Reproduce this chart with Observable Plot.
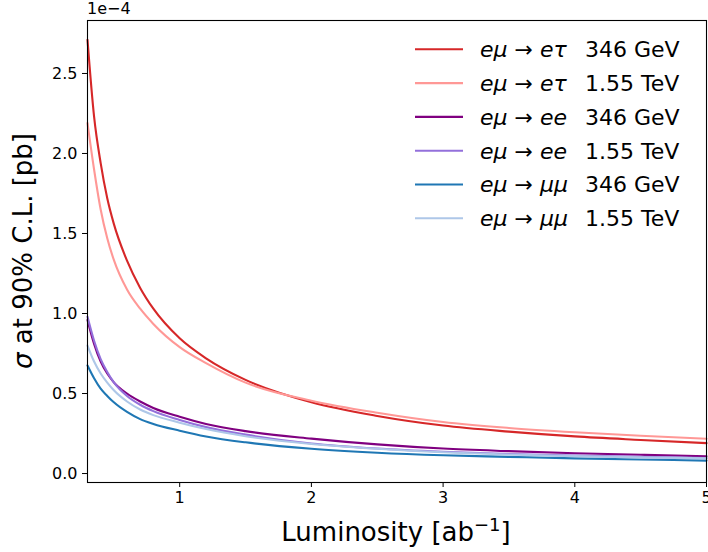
<!DOCTYPE html>
<html><head><meta charset="utf-8">
<script src="https://cdn.jsdelivr.net/npm/d3@7"></script>
<script src="https://cdn.jsdelivr.net/npm/@observablehq/plot@0.6"></script>
<style>body{margin:0;background:#fff}</style>
</head><body><div id="chart"></div>
<script>
// Luminosity sample points [ab^-1]
const lumi = [0.3, 0.35, 0.4, 0.45, 0.5, 0.6, 0.7, 0.8, 1.0, 1.2, 1.5, 2.0, 2.5, 3.0, 3.5, 4.0, 4.5, 5.0];
// sigma at 90% C.L. in units of 1e-4 pb
const etau346  = [2.71, 2.23, 1.94, 1.72, 1.56, 1.33, 1.16, 1.03, 0.845, 0.72, 0.585, 0.445, 0.36, 0.30, 0.262, 0.232, 0.21, 0.19];
const etau155  = [2.19, 1.90, 1.65, 1.47, 1.335, 1.15, 1.03, 0.935, 0.79, 0.69, 0.568, 0.455, 0.38, 0.322, 0.285, 0.258, 0.236, 0.217];
const ee346    = [0.96, 0.81, 0.70, 0.625, 0.57, 0.50, 0.45, 0.41, 0.355, 0.31, 0.265, 0.218, 0.182, 0.156, 0.14, 0.127, 0.117, 0.108];
const ee155    = [0.98, 0.83, 0.715, 0.635, 0.57, 0.485, 0.43, 0.39, 0.335, 0.29, 0.243, 0.188, 0.156, 0.136, 0.122, 0.112, 0.104, 0.097];
const mumu346  = [0.675, 0.595, 0.53, 0.485, 0.445, 0.385, 0.34, 0.31, 0.268, 0.232, 0.195, 0.155, 0.13, 0.114, 0.104, 0.095, 0.088, 0.081];
const mumu155  = [0.80, 0.70, 0.625, 0.568, 0.52, 0.45, 0.40, 0.365, 0.318, 0.278, 0.233, 0.185, 0.155, 0.133, 0.119, 0.109, 0.101, 0.095];

const seriesKeys = ["etau346", "etau155", "ee346", "ee155", "mumu346", "mumu155"];
const seriesValues = [etau346, etau155, ee346, ee155, mumu346, mumu155];
const seriesColors = ["#d62728", "#ff9896", "#800080", "#9370db", "#1f77b4", "#aec7e8"];
const procA = ["eμ", "eμ", "eμ", "eμ", "eμ", "eμ"];
const procB = ["eτ", "eτ", "ee", "ee", "μμ", "μμ"];
const energies = ["346 GeV", "1.55 TeV", "346 GeV", "1.55 TeV", "346 GeV", "1.55 TeV"];

const xTicks = [1, 2, 3, 4, 5];
const yTicks = [0, 0.5, 1.0, 1.5, 2.0, 2.5];
const offsetText = "1e−4";
const xLabel = "Luminosity [ab";
const yLabelSym = "σ";
const yLabelRest = " at 90% C.L. [pb]";

const data = seriesKeys.flatMap((k, si) => lumi.map((L, i) => ({L, v: seriesValues[si][i], key: k})));

const chart = Plot.plot({
  width: 708, height: 552,
  marginLeft: 87, marginRight: 2, marginTop: 20, marginBottom: 70,
  style: {fontFamily: "DejaVu Sans", fontSize: "16px", color: "black", background: "white", overflow: "visible"},
  x: {domain: [0.3, 5], ticks: xTicks, tickSize: 5, tickPadding: 4, label: null, tickFormat: d => String(d)},
  y: {domain: [-0.056, 2.831], ticks: yTicks, tickSize: 5, tickPadding: 5, label: null, tickFormat: d3.format(".1f")},
  color: {domain: seriesKeys, range: seriesColors},
  marks: [
    Plot.line(data, {x: "L", y: "v", z: "key", stroke: "key", strokeWidth: 2.1, curve: "monotone-x"}),
    Plot.frame({stroke: "black", strokeWidth: 1.1})
  ]
});

const svg = d3.select(chart);
const font = "DejaVu Sans";

// offset text
svg.append("text").attr("x", 87).attr("y", 14).attr("text-anchor", "start")
  .attr("font-family", font).attr("font-size", 16).attr("fill", "black").text(offsetText);

// x label
const xl = svg.append("text").attr("x", 396).attr("y", 541).attr("text-anchor", "middle")
  .attr("font-family", font).attr("font-size", 26).attr("fill", "black");
xl.append("tspan").text(xLabel);
xl.append("tspan").attr("font-size", 18).attr("dy", -10).text("−1");
xl.append("tspan").attr("dy", 10).text("]");

// y label
const yl = svg.append("text").attr("transform", "translate(32,251) rotate(-90)").attr("text-anchor", "middle")
  .attr("font-family", font).attr("font-size", 26).attr("fill", "black");
yl.append("tspan").attr("font-style", "italic").text(yLabelSym);
yl.append("tspan").text(yLabelRest);

// legend
seriesKeys.forEach((k, i) => {
  const y = 49.3 + i * 33.8;
  svg.append("line").attr("x1", 415).attr("x2", 463).attr("y1", y).attr("y2", y)
    .attr("stroke", seriesColors[i]).attr("stroke-width", 2.1);
  const t = svg.append("text").attr("x", 480).attr("y", y).attr("dy", "0.36em").attr("text-anchor", "start")
    .attr("font-family", font).attr("font-size", 22).attr("fill", "black");
  t.append("tspan").attr("font-style", "italic").text(procA[i]);
  t.append("tspan").text(" → ");
  t.append("tspan").attr("font-style", "italic").text(procB[i]);
  t.append("tspan").attr("x", 585).text(energies[i]);
});

document.getElementById("chart").appendChild(chart);
</script>
</body></html>
